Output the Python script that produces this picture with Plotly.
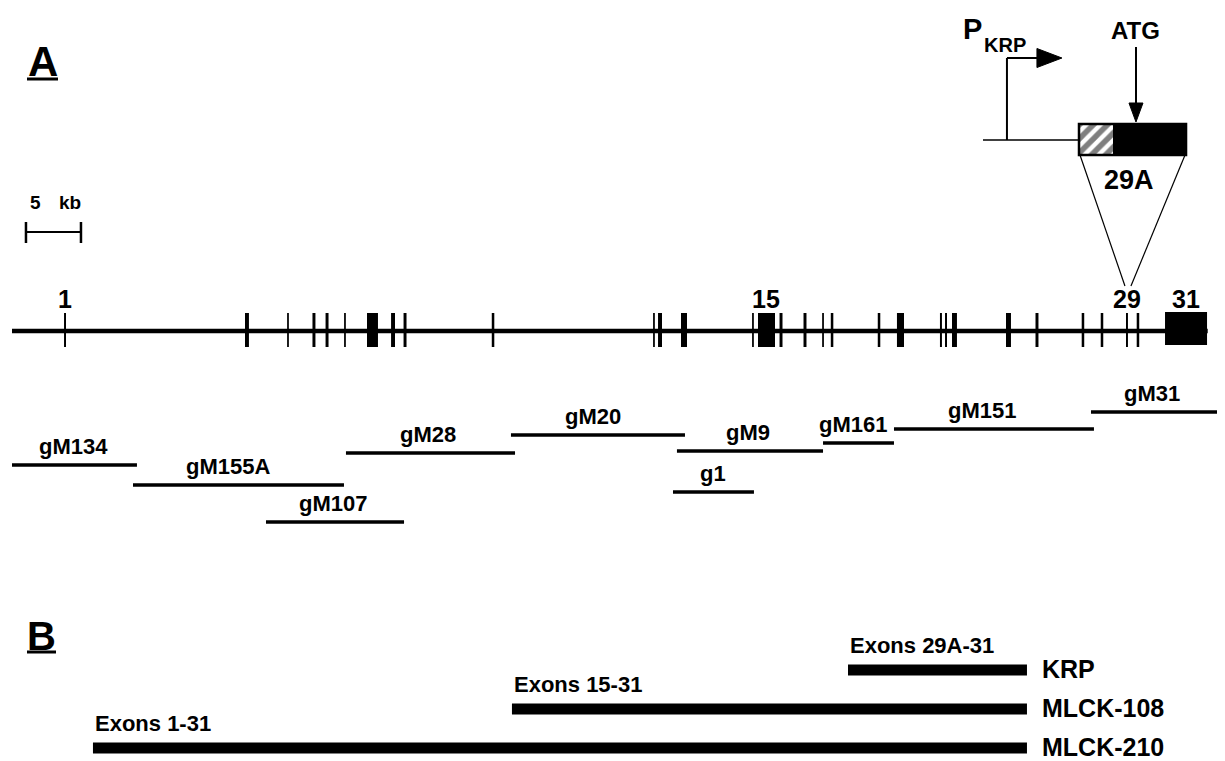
import plotly.graph_objects as go

# ---------------- data (genomic coordinates in kb) ----------------
PX_PER_KB = 11.0          # drawing scale (5 kb = 55 px)
GENE_START_KB = 0.0
GENE_END_KB = 108.7

exon_numbers = list(range(1, 32))
exon_center_kb = [4.82, 21.36, 25.09, 27.45, 28.64, 30.27, 32.77, 34.64, 35.73, 43.73,
                  58.36, 58.91, 61.09, 67.36, 68.59, 69.91, 72.09, 73.73, 74.55, 78.82,
                  80.77, 84.45, 84.91, 85.68, 90.59, 93.18, 97.36, 99.09, 101.36, 102.36,
                  106.73]
exon_width_kb = [0.18, 0.36, 0.16, 0.27, 0.27, 0.16, 1.0, 0.36, 0.27, 0.23,
                 0.16, 0.36, 0.55, 0.16, 1.55, 0.27, 0.27, 0.16, 0.23, 0.23,
                 0.64, 0.18, 0.18, 0.45, 0.45, 0.27, 0.23, 0.23, 0.18, 0.23,
                 3.82]
labelled_exons = [1, 15, 29, 31]

clone_names = ["gM134", "gM155A", "gM107", "gM28", "gM20", "gM9", "g1", "gM161", "gM151", "gM31"]
clone_start_kb = [0.0, 11.0, 23.09, 30.36, 45.36, 60.45, 60.09, 73.73, 80.18, 98.09]
clone_end_kb = [11.36, 30.18, 35.64, 45.73, 61.18, 73.73, 67.45, 80.18, 98.36, 111.0]
clone_label_kb = [5.55, 19.64, 29.18, 37.82, 52.82, 66.9, 63.73, 76.45, 88.2, 103.6]
clone_row = [465, 485, 522, 453, 435, 451, 492, 443, 429, 412]   # vertical placement

# KRP promoter inset (exon 29A)
krp_leader_start_kb = 88.27
krp_tss_kb = 90.45
exon29a_start_kb = 97.0
exon29a_utr_end_kb = 100.09
exon29a_end_kb = 106.73
atg_kb = 102.18

scale_bar_start_kb = 1.27
scale_bar_len_kb = 5.0

transcripts = ["KRP", "MLCK-108", "MLCK-210"]
transcript_exons = ["Exons 29A-31", "Exons 15-31", "Exons 1-31"]
transcript_start_kb = [76.0, 45.45, 7.36]
transcript_end_kb = [92.27, 92.27, 92.27]
transcript_row = [670, 709, 748]

# ---------------- figure ----------------
# page body has an 8 px margin, so the figure is 8 px smaller and the
# visible window starts at reference pixel 8
OFF = 8
W, H = 1225 - OFF, 761 - OFF
FONT = "Liberation Sans, Arial, Helvetica, sans-serif"
x_min = (OFF - 12) / PX_PER_KB
x_max = (1225 - 12) / PX_PER_KB

def px(n):
    """pixel length -> kb length"""
    return n / PX_PER_KB

def kx(p):
    """reference pixel column -> kb"""
    return (p - 12) / PX_PER_KB

fig = go.Figure()
shapes = []
annos = []

def txt(x, y, s, size, xanchor="center", yanchor="middle"):
    annos.append(dict(x=x, y=y, xref="x", yref="y", text=s, showarrow=False,
                      xanchor=xanchor, yanchor=yanchor,
                      font=dict(family=FONT, size=size, color="black", weight="bold")))

# panel labels
txt(kx(42.5), 61, "A", 42)
shapes.append(dict(type="line", xref="x", yref="y", x0=kx(27), x1=kx(58), y0=79, y1=79,
                   line=dict(color="black", width=3)))
txt(kx(41), 636, "B", 40)
shapes.append(dict(type="line", xref="x", yref="y", x0=kx(27), x1=kx(56), y0=652, y1=652,
                   line=dict(color="black", width=3)))

# scale bar
sb0, sb1 = scale_bar_start_kb, scale_bar_start_kb + scale_bar_len_kb
shapes.append(dict(type="line", xref="x", yref="y", x0=sb0, x1=sb1, y0=232, y1=232,
                   line=dict(color="black", width=2)))
for xx in (sb0, sb1):
    shapes.append(dict(type="line", xref="x", yref="y", x0=xx, x1=xx, y0=222, y1=243,
                       line=dict(color="black", width=2.5)))
txt(kx(28), 202, "5", 19, xanchor="left")
txt(kx(57), 202, "kb", 19, xanchor="left")

# gene backbone
BACK_Y = 331
shapes.append(dict(type="line", xref="x", yref="y", x0=GENE_START_KB, x1=GENE_END_KB,
                   y0=BACK_Y, y1=BACK_Y, line=dict(color="black", width=4.5)))
# exons
for n, c, w in zip(exon_numbers, exon_center_kb, exon_width_kb):
    if n == 31:
        y0, y1 = 312, 345
    else:
        y0, y1 = 313, 347
    shapes.append(dict(type="rect", xref="x", yref="y", x0=c - w / 2, x1=c + w / 2, y0=y0, y1=y1,
                       fillcolor="black", line=dict(width=0)))
    if n in labelled_exons:
        txt(c, 299, str(n), 25)

# genomic clones
for name, s, e, lx, r in zip(clone_names, clone_start_kb, clone_end_kb, clone_label_kb, clone_row):
    shapes.append(dict(type="line", xref="x", yref="y", x0=s, x1=e, y0=r, y1=r,
                       line=dict(color="black", width=3.5)))
    txt(lx, r - 19, name, 22)

# ----- KRP inset -----
BOX_Y0, BOX_Y1 = 124, 155
BOX_YC = (BOX_Y0 + BOX_Y1) / 2
# leader line
shapes.append(dict(type="line", xref="x", yref="y", x0=krp_leader_start_kb, x1=exon29a_start_kb,
                   y0=140, y1=140, line=dict(color="black", width=1.5)))
# promoter bent arrow
TSS_TOP = 58
shapes.append(dict(type="line", xref="x", yref="y", x0=krp_tss_kb, x1=krp_tss_kb, y0=140, y1=TSS_TOP,
                   line=dict(color="black", width=2)))
head_base = krp_tss_kb + px(30)
shapes.append(dict(type="line", xref="x", yref="y", x0=krp_tss_kb, x1=head_base + px(1), y0=TSS_TOP, y1=TSS_TOP,
                   line=dict(color="black", width=2)))
fig.add_trace(go.Scatter(x=[head_base, head_base + px(25), head_base, head_base],
                         y=[TSS_TOP - 9.5, TSS_TOP, TSS_TOP + 9.5, TSS_TOP - 9.5],
                         mode="lines", fill="toself", fillcolor="black",
                         line=dict(color="black", width=1), hoverinfo="skip", showlegend=False))
txt(kx(961), 29, "P", 29, xanchor="left")
txt(kx(982), 45, "KRP", 20, xanchor="left")

# exon 29A box: hatched 5'UTR + black coding part
fig.add_trace(go.Bar(orientation="h", y=[BOX_YC], x=[exon29a_utr_end_kb - exon29a_start_kb],
                     base=[exon29a_start_kb], width=[BOX_Y1 - BOX_Y0],
                     marker=dict(color="white",
                                 pattern=dict(shape="/", fgcolor="black", bgcolor="white",
                                              size=10, solidity=0.55),
                                 line=dict(color="black", width=0)),
                     hoverinfo="skip", showlegend=False))
shapes.append(dict(type="rect", xref="x", yref="y", x0=exon29a_utr_end_kb, x1=exon29a_end_kb,
                   y0=BOX_Y0, y1=BOX_Y1, fillcolor="black", line=dict(width=0)))
shapes.append(dict(type="rect", xref="x", yref="y", x0=exon29a_start_kb, x1=exon29a_end_kb,
                   y0=BOX_Y0, y1=BOX_Y1, fillcolor="rgba(0,0,0,0)", line=dict(color="black", width=2.5)))
txt((exon29a_start_kb + exon29a_end_kb) / 2 + px(-4), 180, "29A", 27)

# ATG arrow
ATG_TIP = 122
shapes.append(dict(type="line", xref="x", yref="y", x0=atg_kb, x1=atg_kb, y0=47, y1=ATG_TIP - 18,
                   line=dict(color="black", width=2)))
fig.add_trace(go.Scatter(x=[atg_kb - px(7), atg_kb + px(7), atg_kb, atg_kb - px(7)],
                         y=[ATG_TIP - 19, ATG_TIP - 19, ATG_TIP, ATG_TIP - 19],
                         mode="lines", fill="toself", fillcolor="black",
                         line=dict(color="black", width=1), hoverinfo="skip", showlegend=False))
txt(atg_kb, 30, "ATG", 24)

# zoom lines from exon 29A to exon 29 position
ex29 = exon_center_kb[28]
shapes.append(dict(type="line", xref="x", yref="y", x0=exon29a_start_kb + px(1), y0=BOX_Y1,
                   x1=ex29 - px(2), y1=286, line=dict(color="black", width=1.2)))
shapes.append(dict(type="line", xref="x", yref="y", x0=exon29a_end_kb - px(1), y0=BOX_Y1,
                   x1=ex29 + px(4), y1=286, line=dict(color="black", width=1.2)))

# ----- panel B transcripts -----
for name, ex, s, e, r in zip(transcripts, transcript_exons, transcript_start_kb, transcript_end_kb, transcript_row):
    shapes.append(dict(type="rect", xref="x", yref="y", x0=s, x1=e, y0=r - 5.5, y1=r + 5.5,
                       fillcolor="black", line=dict(width=0)))
    txt(e + px(13), r - 1, name, 25, xanchor="left")
    txt(s, r - 25, ex, 22, xanchor="left")

fig.update_layout(
    width=W, height=H,
    margin=dict(l=0, r=0, t=0, b=0),
    paper_bgcolor="white", plot_bgcolor="white",
    showlegend=False, barmode="overlay",
    xaxis=dict(range=[x_min, x_max], visible=False, fixedrange=True),
    yaxis=dict(range=[761, OFF], visible=False, fixedrange=True),
    shapes=shapes, annotations=annos,
)
fig.write_html("out.html")
